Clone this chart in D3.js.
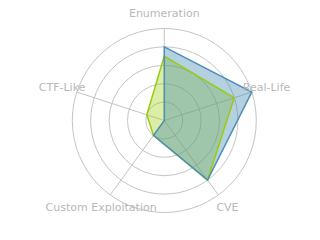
<!DOCTYPE html>
<html>
<head>
<meta charset="utf-8">
<script src="https://cdn.jsdelivr.net/npm/d3@7"></script>
<style>
  html, body { margin: 0; padding: 0; background: #fff; }
  svg { display: block; }
</style>
</head>
<body>
<svg id="chart"></svg>
<script>
const categories = ["Enumeration", "Real-Life", "CVE", "Custom Exploitation", "CTF-Like"];
const blueValues = [4, 5, 4, 1, 0];
const greenValues = [3.5, 4, 4, 1, 1];
const gridLevels = [1, 2, 3, 4, 5];

const series = [
  { name: "green", values: greenValues, stroke: "#99cc11", fill: "rgba(153,204,0,0.35)" },
  { name: "blue", values: blueValues, stroke: "#4a8fb5", fill: "rgba(70,140,180,0.4)" }
];

const width = 320;
const height = 240;
const cx = 164.3;
const cy = 120.5;

const svg = d3.select("#chart").attr("width", width).attr("height", height);
const g = svg.append("g").attr("transform", `translate(${cx}, ${cy})`);

const r = d3.scaleLinear().domain([0, 5]).range([0, 92]);
const angle = d3.scaleLinear().domain([0, categories.length]).range([0, 2 * Math.PI]);

const point = (i, v) => [Math.sin(angle(i)) * r(v), -Math.cos(angle(i)) * r(v)];

// grid rings
g.selectAll(".ring")
  .data(gridLevels)
  .enter()
  .append("circle")
  .attr("class", "ring")
  .attr("r", (d) => r(d))
  .attr("fill", "none")
  .attr("stroke", "#c4c4c4")
  .attr("stroke-width", 1);

// spokes
g.selectAll(".spoke")
  .data(categories)
  .enter()
  .append("line")
  .attr("class", "spoke")
  .attr("x1", 0)
  .attr("y1", 0)
  .attr("x2", (d, i) => point(i, 5)[0])
  .attr("y2", (d, i) => point(i, 5)[1])
  .attr("stroke", "#c4c4c4")
  .attr("stroke-width", 1);

const line = d3.line().curve(d3.curveLinearClosed);
const pts = (s) => s.values.map((v, i) => point(i, v));

// fills first, strokes after
g.selectAll(".area")
  .data(series)
  .enter()
  .append("path")
  .attr("class", "area")
  .attr("d", (s) => line(pts(s)))
  .attr("fill", (s) => s.fill)
  .attr("stroke", "none");

g.selectAll(".outline")
  .data(series)
  .enter()
  .append("path")
  .attr("class", "outline")
  .attr("d", (s) => line(pts(s)))
  .attr("fill", "none")
  .attr("stroke", (s) => s.stroke)
  .attr("stroke-width", 1.5)
  .attr("stroke-linejoin", "miter");

// labels
g.selectAll(".label")
  .data(categories)
  .enter()
  .append("text")
  .attr("class", "label")
  .attr("x", (d, i) => Math.sin(angle(i)) * (r(5) + 15.5))
  .attr("y", (d, i) => -Math.cos(angle(i)) * (r(5) + 15.5))
  .attr("text-anchor", "middle")
  .attr("dominant-baseline", "central")
  .attr("font-family", "DejaVu Sans, sans-serif")
  .attr("font-size", 11)
  .attr("fill", "#b8b8b8")
  .text((d) => d);
</script>
</body>
</html>
